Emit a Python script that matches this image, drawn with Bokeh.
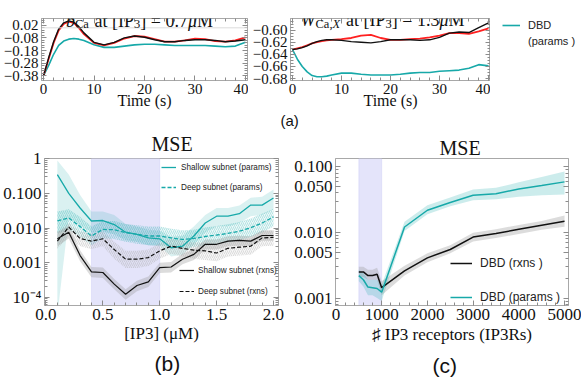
from bokeh.plotting import figure
from bokeh.models import (Range1d, FixedTicker, LinearAxis, LogAxis, Label, Legend,
                          LegendItem, BoxAnnotation, Span, BasicTickFormatter, Title)
from bokeh.layouts import column, row
from bokeh.embed import file_html
from bokeh.resources import INLINE

# ---------------- data ----------------
t = [0, 1, 2, 3, 4, 5, 6, 7, 8, 10, 12, 14, 16, 18, 20, 22, 24, 26, 28, 30, 32, 34, 36, 38, 40]
# (a) left: b_Ca at [IP3] = 0.7 uM
bca_data = [-0.38, -0.25, -0.12, -0.02, 0.03, 0.05, 0.04, 0.0, -0.05, -0.12, -0.14, -0.12, -0.085,
            -0.065, -0.07, -0.09, -0.11, -0.11, -0.10, -0.085, -0.09, -0.105, -0.11, -0.10, -0.075]
bca_rxns = [-0.38, -0.24, -0.11, -0.01, 0.04, 0.055, 0.045, 0.01, -0.04, -0.115, -0.135, -0.115, -0.08,
            -0.065, -0.075, -0.095, -0.11, -0.11, -0.10, -0.095, -0.095, -0.10, -0.11, -0.105, -0.095]
bca_params = [-0.38, -0.30, -0.21, -0.14, -0.105, -0.09, -0.085, -0.09, -0.10, -0.135, -0.155, -0.155, -0.145,
              -0.135, -0.13, -0.13, -0.135, -0.14, -0.14, -0.14, -0.14, -0.145, -0.15, -0.145, -0.115]
# (a) right: W_Ca,X at [IP3] = 1.3 uM
w_data = [-0.632, -0.630, -0.628, -0.625, -0.622, -0.620, -0.618, -0.617, -0.616, -0.615, -0.613, -0.609, -0.608,
          -0.613, -0.616, -0.616, -0.615, -0.614, -0.612, -0.609, -0.605, -0.605, -0.606, -0.602, -0.597]
w_rxns = [-0.632, -0.631, -0.629, -0.626, -0.622, -0.619, -0.617, -0.616, -0.616, -0.617, -0.619, -0.620, -0.621,
          -0.619, -0.616, -0.616, -0.616, -0.617, -0.616, -0.612, -0.605, -0.603, -0.604, -0.596, -0.588]
w_params = [-0.632, -0.648, -0.660, -0.669, -0.675, -0.677, -0.677, -0.676, -0.674, -0.671, -0.671, -0.673, -0.674,
            -0.674, -0.674, -0.673, -0.671, -0.670, -0.670, -0.668, -0.667, -0.666, -0.663, -0.657, -0.659]

# (b) MSE vs [IP3]
ip3 = [0.1, 0.2, 0.3, 0.4, 0.5, 0.6, 0.7, 0.8, 0.9, 1.0, 1.1, 1.2, 1.3, 1.4, 1.5, 1.6, 1.7, 1.8, 1.9, 2.0]
sp_mean = [0.35, 0.10, 0.038, 0.016, 0.0165, 0.0126, 0.0076, 0.0066, 0.0052, 0.0049, 0.0027, 0.0030, 0.0059,
           0.014, 0.022, 0.022, 0.026, 0.046, 0.046, 0.074]
sp_lo = [0.00003, 0.02, 0.012, 0.0075, 0.008, 0.0065, 0.0045, 0.004, 0.0032, 0.003, 0.0015, 0.0017, 0.0033,
         0.0075, 0.011, 0.011, 0.014, 0.022, 0.024, 0.035]
sp_hi = [0.9, 0.35, 0.09, 0.03, 0.03, 0.024, 0.013, 0.011, 0.009, 0.0085, 0.0055, 0.006, 0.011, 0.024, 0.038,
         0.038, 0.045, 0.075, 0.08, 0.13]
dp_mean = [0.016, 0.0196, 0.011, 0.0059, 0.0091, 0.009, 0.0073, 0.0066, 0.0059, 0.0059, 0.0052, 0.0047, 0.005,
           0.0057, 0.0063, 0.007, 0.0081, 0.0102, 0.014, 0.021]
dp_lo = [0.007, 0.009, 0.0055, 0.0032, 0.005, 0.0048, 0.004, 0.0035, 0.0032, 0.0032, 0.0028, 0.0026, 0.0028,
         0.0031, 0.0035, 0.0038, 0.0044, 0.0055, 0.0075, 0.011]
dp_hi = [0.03, 0.035, 0.021, 0.011, 0.016, 0.016, 0.013, 0.012, 0.011, 0.011, 0.0095, 0.0086, 0.009, 0.0103,
         0.0115, 0.0128, 0.015, 0.019, 0.026, 0.036]
sr_mean = [0.0049, 0.0076, 0.0016, 0.00054, 0.00052, 0.00024, 0.000123, 0.00022, 0.00028, 0.00072, 0.00075,
           0.00126, 0.00174, 0.0034, 0.0034, 0.0042, 0.0044, 0.0042, 0.0061, 0.0061]
sr_lo = [0.003, 0.005, 0.0011, 0.00038, 0.00036, 0.00017, 0.000085, 0.00015, 0.0002, 0.0005, 0.00052, 0.0009,
         0.0012, 0.0024, 0.0024, 0.003, 0.0031, 0.003, 0.0043, 0.0043]
sr_hi = [0.008, 0.011, 0.0023, 0.00075, 0.00073, 0.00034, 0.00017, 0.0003, 0.0004, 0.001, 0.00105, 0.0018,
         0.0024, 0.0047, 0.0047, 0.0058, 0.006, 0.0058, 0.0085, 0.0085]
dr_mean = [0.0042, 0.0107, 0.005, 0.0042, 0.0049, 0.0024, 0.00126, 0.00126, 0.0014, 0.0022, 0.003, 0.0026,
           0.0023, 0.0022, 0.0019, 0.0026, 0.0028, 0.003, 0.0052, 0.0054]
dr_lo = [0.0025, 0.006, 0.003, 0.0025, 0.003, 0.0013, 0.0007, 0.0007, 0.0008, 0.0013, 0.0018, 0.0015, 0.0013,
         0.0012, 0.0011, 0.0015, 0.0016, 0.0017, 0.003, 0.0031]
dr_hi = [0.0075, 0.014, 0.008, 0.0068, 0.0078, 0.004, 0.0022, 0.0022, 0.0024, 0.0037, 0.0048, 0.0043, 0.0039,
         0.0038, 0.0034, 0.0044, 0.0048, 0.005, 0.0085, 0.0088]

# (c) MSE vs number of IP3 receptors
n_ip3r = [500, 600, 700, 800, 900, 1000, 1500, 2000, 2500, 3000, 3500, 4000, 4500, 5000]
rx = [0.0025, 0.0025, 0.0022, 0.0022, 0.0023, 0.00144, 0.0026, 0.0041, 0.0055, 0.0085, 0.0096, 0.0112, 0.0129, 0.0148]
rx_lo = [0.0021, 0.0021, 0.0019, 0.0019, 0.0019, 0.0011, 0.0022, 0.0035, 0.0048, 0.0073, 0.0082, 0.0095, 0.011, 0.0122]
rx_hi = [0.003, 0.003, 0.0027, 0.0027, 0.0029, 0.0018, 0.0031, 0.0048, 0.0064, 0.0099, 0.0112, 0.013, 0.015, 0.0182]
pa = [0.0022, 0.0019, 0.00147, 0.00144, 0.0014, 0.00123, 0.0121, 0.0218, 0.0286, 0.037, 0.039, 0.046, 0.052, 0.059]
pa_lo = [0.0018, 0.0015, 0.0011, 0.0011, 0.001, 0.0009, 0.0105, 0.019, 0.025, 0.031, 0.032, 0.035, 0.037, 0.038]
pa_hi = [0.0027, 0.0024, 0.0019, 0.0019, 0.0019, 0.0016, 0.0145, 0.026, 0.034, 0.045, 0.048, 0.058, 0.07, 0.085]

# tick labels
ya1_ticks = [-0.38, -0.28, -0.18, -0.08, 0.02]
ya1_labels = ["\u22120.38", "\u22120.28", "\u22120.18", "\u22120.08", "0.02"]
ya2_ticks = [-0.68, -0.66, -0.64, -0.62, -0.60]
ya2_labels = ["\u22120.68", "\u22120.66", "\u22120.64", "\u22120.62", "\u22120.60"]
t_ticks = [0, 10, 20, 30, 40]
yb_ticks = [0.0001, 0.001, 0.01, 0.1, 1.0]
yb_labels = ["10\u207b\u2074", "0.001", "0.010", "0.100", "1"]
xb_ticks = [0.0, 0.5, 1.0, 1.5, 2.0]
xb_labels = ["0.0", "0.5", "1.0", "1.5", "2.0"]
yc_ticks = [0.001, 0.005, 0.01, 0.05, 0.1]
yc_labels = ["0.001", "0.005", "0.010", "0.050", "0.100"]
xc_ticks = [0, 1000, 2000, 3000, 4000, 5000]

# ---------------- style ----------------
SERIF = "Liberation Serif"
SANS = "Liberation Sans"
CYAN = "#17a9a9"
RED = "#ff2020"
BLACK = "#111111"
FRAME = "#a8a8a8"
TICK = "#8c8c8c"
SHADE = "#e4e4fa"


def make_fig(w, h, b_left, b_right, b_top, b_bottom, xr, yr, ylog=False):
    p = figure(width=w, height=h, output_backend="svg", toolbar_location=None,
               x_range=Range1d(*xr), y_range=Range1d(*yr),
               y_axis_type="log" if ylog else "linear",
               min_border_left=b_left, min_border_right=b_right,
               min_border_top=b_top, min_border_bottom=b_bottom)
    p.xgrid.visible = False
    p.ygrid.visible = False
    p.outline_line_color = FRAME
    p.outline_line_width = 1
    return p


def set_int(obj, name, val):
    try:
        setattr(obj, name, val)
    except ValueError:
        setattr(obj, name, max(val, 0))


def style_axis(ax, size):
    ax.axis_line_color = FRAME
    ax.major_tick_line_color = TICK
    ax.minor_tick_line_color = TICK
    ax.major_tick_in = 5
    ax.major_tick_out = 0
    ax.minor_tick_in = 3
    ax.minor_tick_out = 0
    ax.major_label_text_font = SERIF
    ax.major_label_text_font_size = size
    ax.major_label_text_color = "#111111"
    ax.major_label_standoff = 3
    ax.axis_label_text_font = SERIF
    ax.axis_label_text_font_style = "normal"
    ax.axis_label_text_color = "#111111"


def add_mirror(p, xt, yt, ylog, top=True):
    axes = []
    if top:
        a = LinearAxis(ticker=xt, formatter=BasicTickFormatter())
        p.add_layout(a, "above")
        axes.append(a)
    r = LogAxis(ticker=yt, formatter=BasicTickFormatter()) if ylog else \
        LinearAxis(ticker=yt, formatter=BasicTickFormatter())
    p.add_layout(r, "right")
    axes.append(r)
    for ax in axes:
        style_axis(ax, "1px")
        ax.major_label_text_color = None
        ax.major_label_standoff = 0


def setup_axes(p, xt, yt, xlabels, ylabels, size, xlabel, xlsize, lstand, ylog=False, top=True):
    style_axis(p.xaxis[0], size)
    style_axis(p.yaxis[0], size)
    p.xaxis[0].ticker = xt
    p.yaxis[0].ticker = yt
    if xlabels:
        p.xaxis[0].major_label_overrides = xlabels
    if ylabels:
        p.yaxis[0].major_label_overrides = ylabels
    p.xaxis[0].axis_label = xlabel
    p.xaxis[0].axis_label_text_font_size = xlsize
    set_int(p.xaxis[0], "axis_label_standoff", lstand)
    add_mirror(p, xt, yt, ylog, top)


def style_title(ti, text, size, font, offset, standoff, valign):
    ti.text = text
    ti.align = "left"
    ti.offset = offset
    ti.text_font = font
    ti.text_font_size = size
    ti.text_font_style = "normal"
    ti.text_color = "#111111"
    ti.vertical_align = valign
    ti.standoff = standoff
    return ti


def lab(p, x, y, text, size, font=SERIF, style="normal", dx=0, dy=0, align="left", base="alphabetic"):
    p.add_layout(Label(x=x, y=y, text=text, text_font=font, text_font_size=size,
                       text_font_style=style, x_offset=dx, y_offset=dy,
                       text_align=align, text_baseline=base, text_color="#111111"))


def legend(p, items, loc, gw, gh, lh, sp, standoff, size):
    lg = Legend(items=items, location=loc)
    lg.padding = 0
    lg.margin = 0
    lg.border_line_alpha = 0
    lg.background_fill_alpha = 0
    lg.glyph_width = gw
    lg.glyph_height = gh
    lg.label_height = lh
    lg.spacing = sp
    lg.label_standoff = standoff
    lg.label_text_font = SANS
    lg.label_text_font_size = size
    lg.label_text_color = "#222222"
    p.add_layout(lg)


# ---------------- (a) left ----------------
pa1 = make_fig(248, 130, 40, 1, 18, 48, (-0.4, 40.4), (-0.418, 0.074))
xt_t = FixedTicker(ticks=t_ticks, minor_ticks=list(range(0, 41, 2)))
yt_a1 = FixedTicker(ticks=ya1_ticks, minor_ticks=[-0.40 + 0.02 * i for i in range(24)])
setup_axes(pa1, xt_t, yt_a1, None, dict(zip(ya1_ticks, ya1_labels)), "15px", "Time (s)", "16px", -5)
pa1.add_layout(Span(location=0, dimension="width", line_color="#dcdcdc", line_width=1))
pa1.line(t, bca_params, color=CYAN, line_width=1.6)
pa1.line(t, bca_data, color=RED, line_width=1.8)
pa1.line(t, bca_rxns, color=BLACK, line_width=1.4)
ax1, ay1 = 20, 0.07
lab(pa1, ax1, ay1, "b", "18px", style="italic", dx=-78.5, dy=-1.5)
lab(pa1, ax1, ay1, "Ca", "12.5px", dx=-69.5, dy=-5)
lab(pa1, ax1, ay1, "at [IP", "18px", dx=-50, dy=-1.5)
lab(pa1, ax1, ay1, "3", "12.5px", dx=-10.5, dy=-5)
lab(pa1, ax1, ay1, "] = 0.7", "18px", dx=-4.2, dy=-1.5)
lab(pa1, ax1, ay1, "\u03bc", "18px", style="italic", dx=43.4, dy=-1.5)
lab(pa1, ax1, ay1, "M", "18px", dx=52.4, dy=-1.5)

# ---------------- (a) right ----------------
pa2 = make_fig(242, 130, 42, 0, 18, 48, (-0.4, 40.4), (-0.6832, -0.5808))
yt_a2 = FixedTicker(ticks=ya2_ticks, minor_ticks=[-0.68 + 0.005 * i for i in range(21)])
setup_axes(pa2, xt_t, yt_a2, None, dict(zip(ya2_ticks, ya2_labels)), "15px", "Time (s)", "16px", -5)
pa2.line(t, w_params, color=CYAN, line_width=1.6)
pa2.line(t, w_data, color=RED, line_width=1.8)
pa2.line(t, w_rxns, color=BLACK, line_width=1.4)
ax2, ay2 = 20, -0.582
lab(pa2, ax2, ay2, "W", "18px", style="italic", dx=-90, dy=-1.2)
lab(pa2, ax2, ay2, "Ca,", "12.5px", dx=-75, dy=-4.7)
lab(pa2, ax2, ay2, "X", "12.5px", style="italic", dx=-58, dy=-4.7)
lab(pa2, ax2, ay2, "at [IP", "18px", dx=-44.5, dy=-1.2)
lab(pa2, ax2, ay2, "3", "12.5px", dx=-5, dy=-4.7)
lab(pa2, ax2, ay2, "] = 1.3", "18px", dx=1.3, dy=-1.2)
lab(pa2, ax2, ay2, "\u03bc", "18px", style="italic", dx=48.9, dy=-1.2)
lab(pa2, ax2, ay2, "M", "18px", dx=57.9, dy=-1.2)
pa2.add_layout(style_title(Title(), "(a)", "15px", SANS, -10, 0, "top"), "below")

# legend of (a), in its own narrow panel at the right
pleg = figure(width=91, height=130, output_backend="svg", toolbar_location=None,
              x_range=Range1d(0, 91), y_range=Range1d(0, 130),
              x_axis_location=None, y_axis_location=None,
              min_border_left=0, min_border_right=0, min_border_top=0, min_border_bottom=0)
pleg.xgrid.visible = False
pleg.ygrid.visible = False
pleg.outline_line_color = None
k_data = pleg.line([-20, -10], [60, 60], color=RED, line_width=1.8)
k_rxns = pleg.line([-20, -10], [60, 60], color=BLACK, line_width=1.4)
k_par = pleg.line([-20, -10], [60, 60], color=CYAN, line_width=1.6)
k_none = pleg.line([-20, -10], [60, 60], color="white", line_alpha=0)
legend(pleg, [LegendItem(label="Data", renderers=[k_data])], (12, 107), 18, 12, 12, 0, 8, "11px")
legend(pleg, [LegendItem(label="DBD", renderers=[k_rxns]),
              LegendItem(label="(rxns )", renderers=[k_none])], (12, 71), 18, 12, 12, 4, 8, "11px")
legend(pleg, [LegendItem(label="DBD", renderers=[k_par]),
              LegendItem(label="(params )", renderers=[k_none])], (12, 33), 18, 12, 12, 4, 8, "11px")

# ---------------- (b) ----------------
pb = make_fig(290, 258, 42, 12, 28, 83, (-0.013, 2.044), (5.8e-5, 1.02), ylog=True)
xt_b = FixedTicker(ticks=xb_ticks, minor_ticks=[0.1 * i for i in range(21)])
yt_b = FixedTicker(ticks=yb_ticks,
                   minor_ticks=[m * 10.0 ** e for e in range(-5, 0) for m in range(2, 10)])
setup_axes(pb, xt_b, yt_b, dict(zip(xb_ticks, xb_labels)), dict(zip(yb_ticks, yb_labels)),
           "17px", "[IP3] (\u03bcM)", "17px", 1, ylog=True, top=False)
pb.add_layout(BoxAnnotation(left=0.4, right=1.0, fill_color=SHADE, fill_alpha=1.0,
                            line_color="#b9b9f2", line_width=1, level="underlay"))
pb.varea(ip3, sp_lo, sp_hi, fill_color=CYAN, fill_alpha=0.16)
pb.varea(ip3, dp_lo, dp_hi, fill_color=CYAN, fill_alpha=0.08, hatch_pattern="/",
         hatch_color=CYAN, hatch_alpha=0.45, hatch_scale=4, hatch_weight=0.6)
pb.varea(ip3, sr_lo, sr_hi, fill_color="#9a9a9a", fill_alpha=0.35)
pb.varea(ip3, dr_lo, dr_hi, fill_color="#bbbbbb", fill_alpha=0.12, hatch_pattern="/",
         hatch_color="#999999", hatch_alpha=0.5, hatch_scale=4, hatch_weight=0.6)
r_sp = pb.line(ip3, sp_mean, color=CYAN, line_width=1.3)
r_dp = pb.line(ip3, dp_mean, color=CYAN, line_width=1.3, line_dash="4 2")
r_sr = pb.line(ip3, sr_mean, color=BLACK, line_width=1.2)
r_dr = pb.line(ip3, dr_mean, color=BLACK, line_width=1.2, line_dash="4 2")
style_title(pb.title, "MSE", "20px", SERIF, 107, 3, "top")
pb.add_layout(style_title(Title(), "(b)", "21px", SANS, 110, 12, "top"), "below")
legend(pb, [LegendItem(label="Shallow subnet (params)", renderers=[r_sp]),
            LegendItem(label="Deep subnet (params)", renderers=[r_dp])],
       (117, 112), 15, 12, 12, 8, 5, "8.2px")
legend(pb, [LegendItem(label="Shallow subnet (rxns)", renderers=[r_sr]),
            LegendItem(label="Deep subnet (rxns)", renderers=[r_dr])],
       (135, 8), 15, 12, 12, 9, 4, "8.2px")

# ---------------- (c) ----------------
pc = make_fig(291, 258, 45, 13, 28, 83, (-10, 5087), (0.00077, 0.134), ylog=True)
xt_c = FixedTicker(ticks=xc_ticks, minor_ticks=list(range(0, 5001, 200)))
yt_c = FixedTicker(ticks=yc_ticks,
                   minor_ticks=[m * 10.0 ** e for e in range(-4, 0) for m in range(1, 10)])
setup_axes(pc, xt_c, yt_c, None, dict(zip(yc_ticks, yc_labels)),
           "17px", "\u266f IP3 receptors (IP3Rs)", "17px", 2, ylog=True, top=False)
pc.add_layout(BoxAnnotation(left=500, right=1000, fill_color=SHADE, fill_alpha=1.0,
                            line_color="#b9b9f2", line_width=1, level="underlay"))
pc.varea(n_ip3r, rx_lo, rx_hi, fill_color="#9a9a9a", fill_alpha=0.35)
pc.varea(n_ip3r, pa_lo, pa_hi, fill_color=CYAN, fill_alpha=0.22)
r_rx = pc.line(n_ip3r, rx, color=BLACK, line_width=1.5)
r_pa = pc.line(n_ip3r, pa, color=CYAN, line_width=1.5)
style_title(pc.title, "MSE", "20px", SERIF, 104, 0, "bottom")
pc.add_layout(style_title(Title(), "(c)", "21px", SANS, 97, 15, "top"), "below")
legend(pc, [LegendItem(label="DBD (rxns )", renderers=[r_rx]),
            LegendItem(label="DBD (params )", renderers=[r_pa])],
       (115, 1), 22, 14, 14, 20, 8, "12px")

layout = column(row(pa1, pa2, pleg), row(pb, pc))
open("out.html", "w").write(file_html(layout, INLINE))
